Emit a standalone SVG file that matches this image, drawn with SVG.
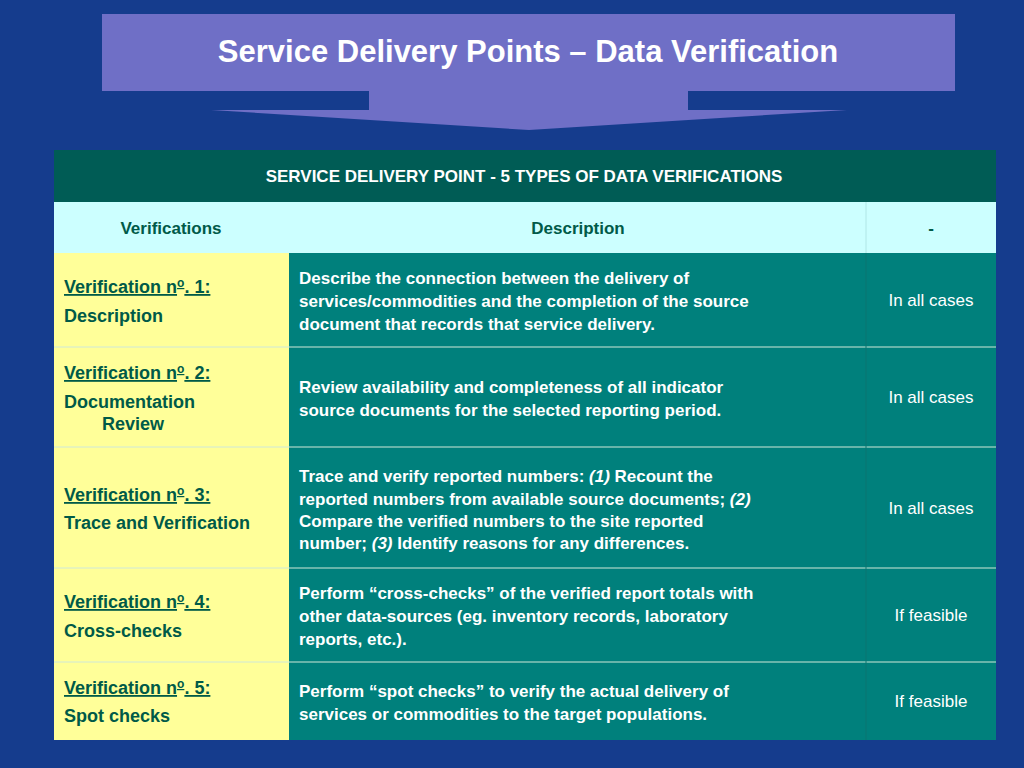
<svg xmlns="http://www.w3.org/2000/svg" width="1024" height="768" viewBox="0 0 1024 768">
<style>
text{font-family:"Liberation Sans",Arial,sans-serif}
.t{font-size:18px;font-weight:bold;fill:#005a48}
.d{font-size:17px;font-weight:bold;fill:#fff}
.c{font-size:17px;fill:#fff;text-anchor:middle}
.y{fill:#ffff99}
.g{fill:#00807c}
.ln{stroke:#cfe8d8;stroke-width:1}
</style>
<rect width="1024" height="768" fill="#153c8d"/>
<g id="banner">
<path d="M102 14H955V91H688V110H847L529 130L211 110H369V91H102Z" fill="#6f6fc6"/>
<text x="528" y="62" text-anchor="middle" font-size="31" font-weight="bold" fill="#fff">Service Delivery Points – Data Verification</text>
</g>
<g id="table">
<rect x="54" y="150" width="942" height="52" fill="#005c55"/>
<text x="524" y="182" text-anchor="middle" font-size="17" font-weight="bold" fill="#fff">SERVICE DELIVERY POINT - 5 TYPES OF DATA VERIFICATIONS</text>
<rect x="54" y="202" width="942" height="51" fill="#ccffff"/>
<line x1="866" y1="202" x2="866" y2="253" stroke="#b0e6e6"/>
<text x="171" y="234" text-anchor="middle" font-size="17" font-weight="bold" fill="#005a48">Verifications</text>
<text x="578" y="234" text-anchor="middle" font-size="17" font-weight="bold" fill="#005a48">Description</text>
<text x="931" y="234" text-anchor="middle" font-size="17" font-weight="bold" fill="#005a48">-</text>
<rect class="y" x="54" y="253" width="235" height="487"/>
<rect class="g" x="289" y="253" width="707" height="487"/>
<g class="ln">
<line x1="54" y1="347" x2="996" y2="347"/><line x1="54" y1="447" x2="996" y2="447"/>
<line x1="54" y1="568" x2="996" y2="568"/><line x1="54" y1="662" x2="996" y2="662"/>
<line x1="866" y1="253" x2="866" y2="740" stroke="#0b7470"/>
</g>
</g>
<g id="row1">
<text class="t" x="64" y="293"><tspan text-decoration="underline">Verification n<tspan font-size="12" dy="-6">o</tspan><tspan dy="6">. 1:</tspan></tspan></text>
<text class="t" x="64" y="322">Description</text>
<text class="d" x="299" y="284">Describe the connection between the delivery of</text>
<text class="d" x="299" y="307">services/commodities and the completion of the source</text>
<text class="d" x="299" y="330">document that records that service delivery.</text>
<text class="c" x="931" y="306">In all cases</text>
</g>
<g id="row2">
<text class="t" x="64" y="379"><tspan text-decoration="underline">Verification n<tspan font-size="12" dy="-6">o</tspan><tspan dy="6">. 2:</tspan></tspan></text>
<text class="t" x="64" y="408">Documentation</text>
<text class="t" x="102" y="430">Review</text>
<text class="d" x="299" y="393">Review availability and completeness of all indicator</text>
<text class="d" x="299" y="416">source documents for the selected reporting period.</text>
<text class="c" x="931" y="403">In all cases</text>
</g>
<g id="row3">
<text class="t" x="64" y="501"><tspan text-decoration="underline">Verification n<tspan font-size="12" dy="-6">o</tspan><tspan dy="6">. 3:</tspan></tspan></text>
<text class="t" x="64" y="529">Trace and Verification</text>
<text class="d" x="299" y="482">Trace and verify reported numbers: <tspan font-style="italic">(1)</tspan> Recount the</text>
<text class="d" x="299" y="505">reported numbers from available source documents; <tspan font-style="italic">(2)</tspan></text>
<text class="d" x="299" y="527">Compare the verified numbers to the site reported</text>
<text class="d" x="299" y="549">number; <tspan font-style="italic">(3)</tspan> Identify reasons for any differences.</text>
<text class="c" x="931" y="514">In all cases</text>
</g>
<g id="row4">
<text class="t" x="64" y="608"><tspan text-decoration="underline">Verification n<tspan font-size="12" dy="-6">o</tspan><tspan dy="6">. 4:</tspan></tspan></text>
<text class="t" x="64" y="637">Cross-checks</text>
<text class="d" x="299" y="599">Perform “cross-checks” of the verified report totals with</text>
<text class="d" x="299" y="622">other data-sources (eg. inventory records, laboratory</text>
<text class="d" x="299" y="645">reports, etc.).</text>
<text class="c" x="931" y="621">If feasible</text>
</g>
<g id="row5">
<text class="t" x="64" y="694"><tspan text-decoration="underline">Verification n<tspan font-size="12" dy="-6">o</tspan><tspan dy="6">. 5:</tspan></tspan></text>
<text class="t" x="64" y="722">Spot checks</text>
<text class="d" x="299" y="697">Perform “spot checks” to verify the actual delivery of</text>
<text class="d" x="299" y="720">services or commodities to the target populations.</text>
<text class="c" x="931" y="707">If feasible</text>
</g>
</svg>
